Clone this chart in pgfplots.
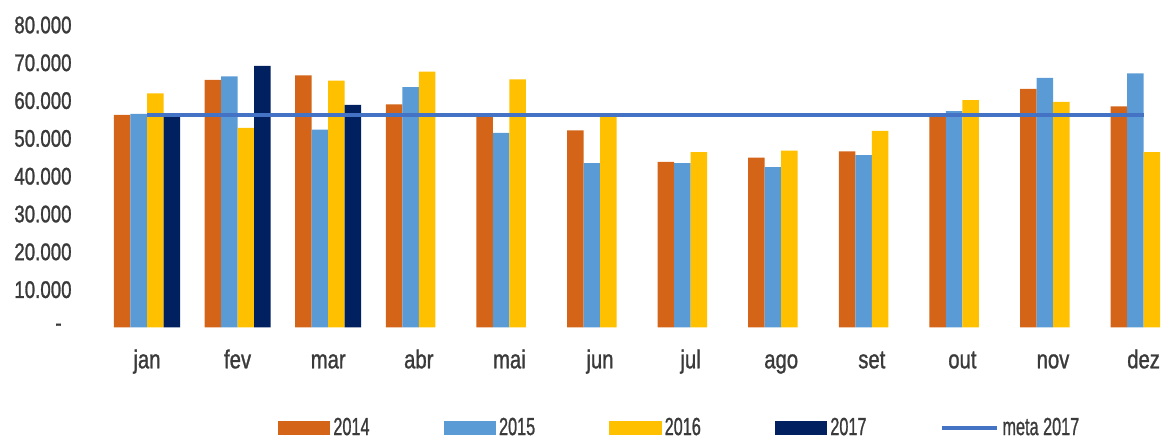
\documentclass[border=0pt]{standalone}
\usepackage{fontspec}
\setmainfont{Liberation Sans}[FakeStretch=0.78,FakeBold=1.1]
\usepackage{graphicx}
\usepackage{pgfplots}
\pgfplotsset{compat=1.18}
\definecolor{c14}{HTML}{D46418}
\definecolor{c15}{HTML}{5B9BD5}
\definecolor{c16}{HTML}{FFC000}
\definecolor{c17}{HTML}{002060}
\definecolor{cmeta}{HTML}{4472C4}
\definecolor{txt}{HTML}{3A3A3A}
\newcommand{\legtxt}[1]{\scalebox{0.84}[1]{#1}}
\begin{document}
\begin{tikzpicture}
\path[use as bounding box] (0,0) rectangle (582pt,221pt);
\begin{axis}[
  at={(50.85pt,57.25pt)}, anchor=south west,
  scale only axis, width=531.15pt, height=151.25pt,
  xmin=-0.5, xmax=11.225, ymin=0, ymax=80000,
  clip=false, scaled y ticks=false,
  axis line style={draw=none}, major tick length=0pt,
  xtick={0,...,11},
  xticklabels={jan,fev,mar,abr,mai,jun,jul,ago,set,out,nov,dez},
  ytick={0,10000,20000,30000,40000,50000,60000,70000,80000},
  yticklabels={{-\kern5pt},10.000,20.000,30.000,40.000,50.000,60.000,70.000,80.000},
  xticklabel style={anchor=base, yshift=-20.4pt, font=\fontsize{13}{15}\selectfont, text=txt},
  yticklabel style={anchor=east, inner sep=0pt, xshift=-14.85pt, font=\fontsize{12}{14}\selectfont, text=txt},
  legend columns=5,
  legend cell align=left,
  legend style={at={(0.1655,-0.332)}, anchor=west, draw=none, fill=none,
    inner xsep=0pt, inner ysep=0pt,
    font=\fontsize{12.4}{14}\selectfont, text=txt,
    /tikz/every even column/.append style={column sep=35.5pt},
    nodes={inner xsep=1.5pt}},
]
\pgfplotsset{bars/.style={ybar, bar width=8.25pt, draw=none, fill=#1,
  legend image code/.code={\fill[#1] (0pt,-3.5pt) rectangle (26.25pt,3.5pt);}}}
\addplot[bars=c14, bar shift=-12.375pt] coordinates {
(0,56200) (1,65500) (2,66700) (3,59000) (4,56700) (5,52100)
(6,43800) (7,44900) (8,46600) (9,56600) (10,63100) (11,58500)};
\addlegendentry{\legtxt{2014}}
\addplot[bars=c15, bar shift=-4.125pt] coordinates {
(0,56500) (1,66400) (2,52300) (3,63600) (4,51500) (5,43500)
(6,43500) (7,42400) (8,45600) (9,57200) (10,66000) (11,67200)};
\addlegendentry{\legtxt{2015}}
\addplot[bars=c16, bar shift=4.125pt] coordinates {
(0,61900) (1,52800) (2,65300) (3,67700) (4,65600) (5,55800)
(6,46400) (7,46800) (8,52000) (9,60100) (10,59700) (11,46400)};
\addlegendentry{\legtxt{2016}}
\addplot[bars=c17, bar shift=12.375pt] coordinates {
(0,56700) (1,69200) (2,58900)};
\addlegendentry{\legtxt{2017}}
\addplot[sharp plot, no marks, color=cmeta, line width=2pt,
  legend image code/.code={\draw[cmeta, line width=2pt] (0pt,0pt) -- (27.5pt,0pt);}]
  coordinates {(0,56100) (11,56100)};
\addlegendentry{\legtxt{meta 2017}}
\end{axis}
\end{tikzpicture}
\end{document}
